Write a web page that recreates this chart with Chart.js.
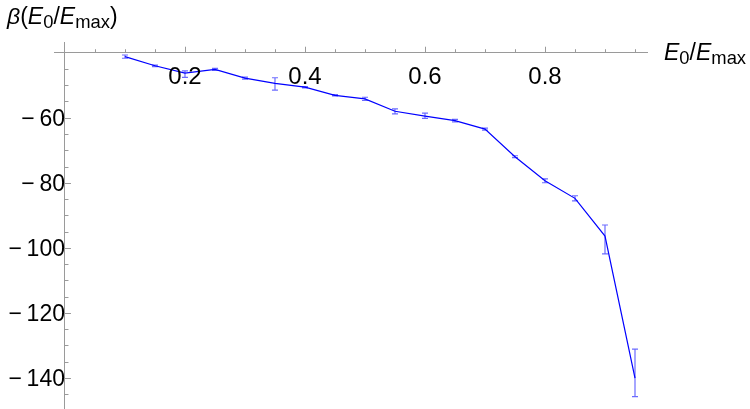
<!DOCTYPE html>
<html>
<head>
<meta charset="utf-8">
<script src="https://cdn.jsdelivr.net/npm/chart.js@4"></script>
<style>
  html, body { margin: 0; padding: 0; background: #fff; }
  #wrap { position: relative; width: 750px; height: 409px; }
  .lbl { position: absolute; font-family: Arial, "Liberation Sans", sans-serif; white-space: nowrap; color: #000; }
  .lbl i { font-style: italic; }
  .lbl .s { font-size: 0.8em; vertical-align: -0.2em; }
</style>
</head>
<body>
<div id="wrap">
  <canvas id="betaChart"></canvas>
  <div class="lbl" style="left:7px; top:5px; font-size:23px; line-height:23px;"><i>β</i>(<i>E</i><span class="s">0</span>/<i>E</i><span class="s">max</span>)</div>
  <div class="lbl" style="left:664px; top:41px; font-size:23px; line-height:23px;"><i>E</i><span class="s">0</span>/<i>E</i><span class="s">max</span></div>
</div>
<script>
const ratio = [0.1, 0.15, 0.2, 0.25, 0.3, 0.35, 0.4, 0.45, 0.5, 0.55, 0.6, 0.65, 0.7, 0.75, 0.8, 0.85, 0.9, 0.95];
const beta = [-41.2, -44.0, -46.3, -45.1, -47.8, -49.4, -50.6, -53.1, -54.2, -58.0, -59.5, -60.9, -63.5, -72.0, -79.4, -84.8, -96.4, -140.1];
const betaLow = [-41.7, -44.3, -47.6, -45.4, -48.1, -51.5, -50.8, -53.3, -54.7, -58.8, -60.2, -61.3, -63.8, -72.3, -80.0, -85.6, -101.9, -145.8];
const betaHigh = [-40.7, -43.8, -45.6, -44.8, -47.5, -47.7, -50.4, -52.9, -53.7, -57.3, -58.6, -60.5, -63.2, -71.7, -78.8, -84.0, -93.0, -131.2];

const xTicks = [0.2, 0.4, 0.6, 0.8];
const yTicks = [-140, -120, -100, -80, -60];

const axisColor = '#9a9a9a';

function flatScale(s) {
  if (s.isHorizontal()) s.height = 0; else s.width = 0;
  s.paddingTop = s.paddingBottom = s.paddingLeft = s.paddingRight = 0;
}

// error bars drawn under the line
const errorBars = {
  id: 'errorBars',
  beforeDatasetsDraw(chart) {
    const { ctx, scales: { x, y } } = chart;
    ctx.save();
    ctx.strokeStyle = 'rgba(70, 70, 255, 0.8)';
    ctx.lineWidth = 1.2;
    ratio.forEach((r, i) => {
      const px = x.getPixelForValue(r);
      const y1 = y.getPixelForValue(betaLow[i]);
      const y2 = y.getPixelForValue(betaHigh[i]);
      ctx.beginPath();
      ctx.moveTo(px, y1); ctx.lineTo(px, y2);
      ctx.moveTo(px - 3, y1); ctx.lineTo(px + 3, y1);
      ctx.moveTo(px - 3, y2); ctx.lineTo(px + 3, y2);
      ctx.stroke();
    });
    ctx.restore();
  }
};

// Mathematica-like tick marks, drawn on the inner side of the axes
const tickMarks = {
  id: 'tickMarks',
  beforeDatasetsDraw(chart) {
    const { ctx, scales: { x, y } } = chart;
    const ax = y.getPixelForValue(-40);
    const ay = x.getPixelForValue(0);
    ctx.save();
    ctx.strokeStyle = axisColor;
    ctx.lineWidth = 1;
    ctx.beginPath();
    for (let k = 1; k <= 19; k++) {
      const v = k * 0.05;
      const px = Math.round(x.getPixelForValue(v)) + 0.5;
      const len = (k % 4 === 0) ? 6 : 3.5;
      ctx.moveTo(px, ax); ctx.lineTo(px, ax - len);
    }
    for (let v = -145; v < -40; v += 5) {
      const py = Math.round(y.getPixelForValue(v)) + 0.5;
      const len = (v % 20 === 0) ? 6 : 3.5;
      ctx.moveTo(ay, py); ctx.lineTo(ay + len, py);
    }
    ctx.stroke();
    ctx.restore();
  }
};

const ctx = document.getElementById('betaChart').getContext('2d');
new Chart(ctx, {
  type: 'line',
  data: {
    datasets: [{
      data: ratio.map((r, i) => ({ x: r, y: beta[i] })),
      borderColor: '#0000ff',
      borderWidth: 1.2,
      pointRadius: 0,
      fill: false,
      tension: 0
    }]
  },
  options: {
    responsive: true,
    maintainAspectRatio: false,
    animation: false,
    layout: { padding: { left: 54, right: 103, top: 42, bottom: 0 } },
    plugins: {
      legend: { display: false },
      tooltip: { enabled: false }
    },
    scales: {
      x: {
        type: 'linear',
        min: -0.0183,
        max: 0.97,
        position: { y: -40 },
        afterBuildTicks: s => { s.ticks = xTicks.map(v => ({ value: v })); },
        afterFit: flatScale,
        grid: { display: false, drawTicks: false },
        border: { display: true, color: axisColor, width: 1 },
        ticks: {
          z: 1,
          padding: 10,
          color: '#000',
          maxRotation: 0,
          font: { family: 'Arial, "Liberation Sans", sans-serif', size: 24 },
          callback: v => String(v)
        }
      },
      y: {
        type: 'linear',
        min: -149.6,
        max: -36.7,
        position: { x: 0 },
        afterBuildTicks: s => { s.ticks = yTicks.map(v => ({ value: v })); },
        afterFit: flatScale,
        grid: { display: false, drawTicks: false },
        border: { display: true, color: axisColor, width: 1 },
        ticks: {
          padding: 8,
          labelOffset: 2,
          color: '#000',
          font: { family: 'Arial, "Liberation Sans", sans-serif', size: 23 },
          callback: v => '\u2212\u2009' + Math.abs(v)
        }
      }
    }
  },
  plugins: [errorBars, tickMarks]
});
</script>
</body>
</html>
